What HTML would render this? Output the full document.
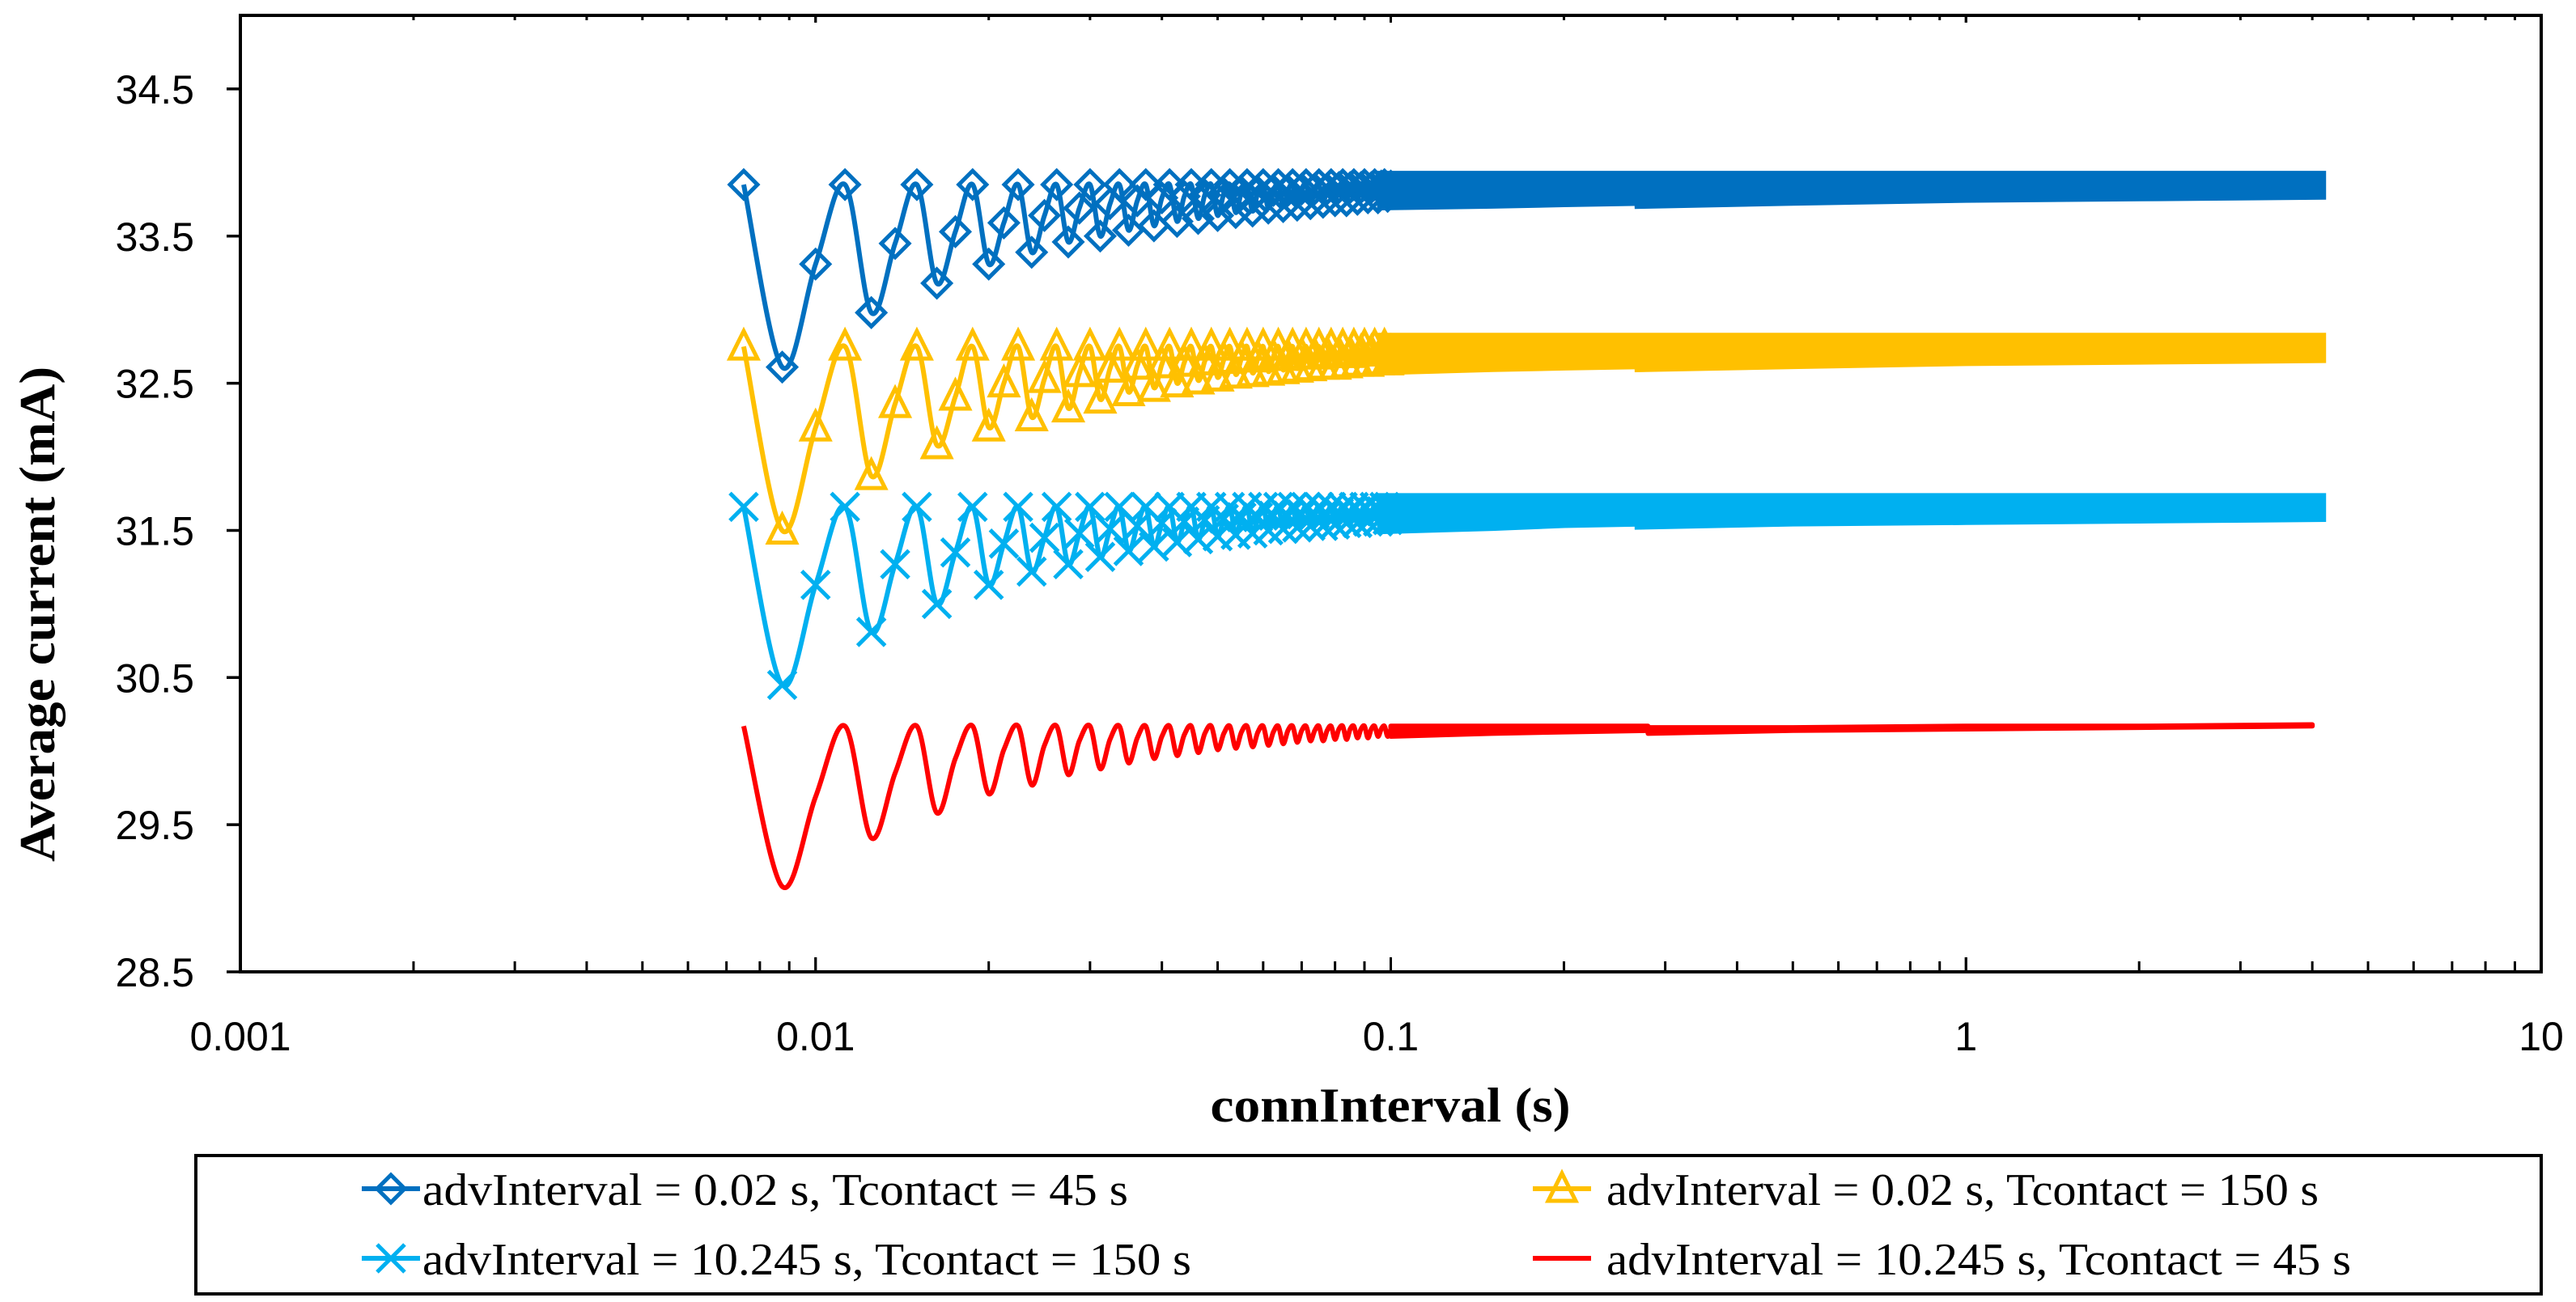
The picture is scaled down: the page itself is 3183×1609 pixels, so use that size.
<!DOCTYPE html>
<html>
<head>
<meta charset="utf-8">
<style>
html,body{margin:0;padding:0;background:#fff;}
svg{display:block;}
</style>
</head>
<body>
<svg id="chart" xmlns="http://www.w3.org/2000/svg" width="3183" height="1609" viewBox="0 0 3183 1609">
  <rect x="0" y="0" width="3183" height="1609" fill="#fff"/>
  <g id="plot"></g>
  <g id="axes"></g>
  <text transform="translate(67,759) rotate(-90)" text-anchor="middle" font-family="Liberation Serif, serif" font-weight="bold" font-size="62" textLength="612" lengthAdjust="spacingAndGlyphs">Average current (mA)</text>
  <text x="1718" y="1386" text-anchor="middle" font-family="Liberation Serif, serif" font-weight="bold" font-size="60" textLength="445" lengthAdjust="spacingAndGlyphs">connInterval (s)</text>
  <g id="legend">
    <rect x="242" y="1428" width="2898" height="171" fill="none" stroke="#000" stroke-width="4"/>
  </g>
</svg>
<script>
// ---- data ----
const connInterval = [0.0075,0.00875,0.01,0.01125,0.0125,0.01375,0.015,0.01625,0.0175,0.01875,0.02,0.02125,0.0225,0.02375,0.025,0.02625,0.0275,0.02875,0.03,0.03125,0.0325,0.03375,0.035,0.03625,0.0375,0.03875,0.04,0.04125,0.0425,0.04375,0.045,0.04625,0.0475,0.04875,0.05,0.05125,
 0.0525,0.05375,0.055,0.05625,0.0575,0.05875,0.06,0.06125,0.0625,0.06375,0.065,0.06625,0.0675,0.06875,0.07,0.07125,0.0725,0.07375,0.075,0.07625,0.0775,0.07875,0.08,0.08125,0.0825,0.08375,0.085,0.08625,0.0875,0.08875,0.09,0.09125,0.0925,0.09375,0.095,0.09625,0.0975,0.09875,0.1];
const blueVals = [33.85,32.61,33.31,33.85,32.98,33.45,33.85,33.18,33.53,33.85,33.31,33.59,33.85,33.39,33.64,33.85,33.46,33.69,33.85,33.50,33.72,33.85,33.54,33.74,33.85,33.57,33.76,33.85,33.60,33.77,33.85,33.62,33.78,33.85,33.64,33.79,
 33.85,33.66,33.80,33.85,33.67,33.80,33.85,33.69,33.81,33.85,33.70,33.81,33.85,33.71,33.82,33.85,33.72,33.82,33.85,33.73,33.82,33.85,33.74,33.83,33.85,33.74,33.83,33.85,33.75,33.83,33.85,33.76,33.83,33.85,33.76,33.84,33.85,33.77,33.84];
const yellowVals = [32.75,31.50,32.20,32.75,31.87,32.36,32.75,32.08,32.41,32.75,32.20,32.50,32.75,32.27,32.53,32.75,32.33,32.57,32.75,32.39,32.60,32.75,32.44,32.62,32.75,32.47,32.63,32.75,32.50,32.64,32.75,32.52,32.65,32.75,32.54,32.66,
 32.75,32.56,32.67,32.75,32.57,32.67,32.75,32.58,32.68,32.75,32.59,32.68,32.75,32.60,32.69,32.75,32.61,32.69,32.75,32.62,32.70,32.75,32.62,32.70,32.75,32.63,32.70,32.75,32.64,32.71,32.75,32.64,32.71,32.75,32.65,32.71,32.75,32.65,32.71];
const cyanVals = [31.66,30.45,31.13,31.66,30.81,31.27,31.66,31.00,31.35,31.66,31.13,31.41,31.66,31.22,31.45,31.66,31.27,31.48,31.66,31.32,31.51,31.66,31.36,31.53,31.66,31.39,31.55,31.66,31.42,31.56,31.66,31.44,31.57,31.66,31.46,31.58,
 31.66,31.47,31.59,31.66,31.48,31.59,31.66,31.50,31.60,31.66,31.51,31.60,31.66,31.52,31.61,31.66,31.53,31.61,31.66,31.53,31.61,31.66,31.54,31.62,31.66,31.55,31.62,31.66,31.55,31.62,31.66,31.56,31.62,31.66,31.56,31.63,31.66,31.57,31.63];
const redVals = [30.17,29.08,29.69,30.17,29.41,29.85,30.17,29.58,29.95,30.17,29.71,30.01,30.17,29.77,30.04,30.17,29.84,30.07,30.17,29.88,30.08,30.17,29.92,30.09,30.17,29.95,30.10,30.17,29.97,30.11,30.17,29.99,30.12,30.17,30.01,30.12,
 30.17,30.02,30.13,30.17,30.03,30.13,30.17,30.04,30.13,30.17,30.05,30.14,30.17,30.06,30.14,30.17,30.07,30.14,30.17,30.07,30.14,30.17,30.08,30.15,30.17,30.08,30.15,30.17,30.09,30.15,30.17,30.09,30.15,30.17,30.10,30.15,30.17,30.10,30.15];
// dense region envelope (min / max of the many points)
const bandX = [0.1,0.15,0.2,0.28,0.2801,0.5,1,2,4];
const blueHi = [33.85,33.85,33.85,33.85,33.85,33.85,33.85,33.85,33.85];
const blueLo = [33.77,33.78,33.79,33.80,33.78,33.80,33.82,33.83,33.84];
const yellowHi = [32.75,32.75,32.75,32.75,32.75,32.75,32.75,32.75,32.75];
const yellowLo = [32.65,32.67,32.68,32.69,32.67,32.69,32.71,32.72,32.73];
const cyanHi = [31.66,31.66,31.66,31.66,31.66,31.66,31.66,31.66,31.66];
const cyanLo = [31.57,31.59,31.61,31.62,31.60,31.62,31.63,31.64,31.65];
const redHi = [30.17,30.17,30.17,30.17,30.16,30.16,30.17,30.17,30.18];
const redLo = [30.10,30.12,30.13,30.14,30.12,30.14,30.15,30.16,30.17];
const yTicks = [28.5,29.5,30.5,31.5,32.5,33.5,34.5];
const yTickLabels = ["28.5","29.5","30.5","31.5","32.5","33.5","34.5"];
const xTicks = [0.001,0.01,0.1,1,10];
const xTickLabels = ["0.001","0.01","0.1","1","10"];
const legendLabels = ["advInterval = 0.02 s, Tcontact = 45 s","advInterval = 0.02 s, Tcontact = 150 s","advInterval = 10.245 s, Tcontact = 150 s","advInterval = 10.245 s, Tcontact = 45 s"];

// ---- geometry ----
const L=297,R=3140,T=19,B=1201;
const xMinLog=-3,xMaxLog=1,yMin=28.5,yMax=35.0;
function xs(v){return L+(Math.log10(v)-xMinLog)/(xMaxLog-xMinLog)*(R-L);}
function ys(v){return B-(v-yMin)/(yMax-yMin)*(B-T);}
const NS="http://www.w3.org/2000/svg";
function mk(tag,attrs,parent){const e=document.createElementNS(NS,tag);for(const k in attrs)e.setAttribute(k,attrs[k]);parent.appendChild(e);return e;}
const plot=document.getElementById('plot'),axes=document.getElementById('axes'),legend=document.getElementById('legend');

function smoothPath(pts){
  let d="M"+pts[0][0].toFixed(1)+","+pts[0][1].toFixed(1);
  for(let i=0;i<pts.length-1;i++){
    const p0=pts[i-1]||pts[i],p1=pts[i],p2=pts[i+1],p3=pts[i+2]||p2;
    const t=1/6;
    const c1=[p1[0]+(p2[0]-p0[0])*t,p1[1]+(p2[1]-p0[1])*t];
    const c2=[p2[0]-(p3[0]-p1[0])*t,p2[1]-(p3[1]-p1[1])*t];
    d+=" C"+c1[0].toFixed(1)+","+c1[1].toFixed(1)+" "+c2[0].toFixed(1)+","+c2[1].toFixed(1)+" "+p2[0].toFixed(1)+","+p2[1].toFixed(1);
  }
  return d;
}
function marker(type,x,y,color,parent){
  let e;
  if(type==='diamond'){
    e=mk('polygon',{points:`${x},${y-17} ${x+17},${y} ${x},${y+17} ${x-17},${y}`,fill:'none',stroke:color,'stroke-width':5},parent);
  }else if(type==='triangle'){
    e=mk('polygon',{points:`${x},${y-19} ${x+17},${y+15} ${x-17},${y+15}`,fill:'none',stroke:color,'stroke-width':5},parent);
  }else if(type==='x'){
    e=mk('path',{d:`M${x-17},${y-17}L${x+17},${y+17}M${x-17},${y+17}L${x+17},${y-17}`,fill:'none',stroke:color,'stroke-width':5},parent);
  }
  return e;
}
const series=[
 {name:'blue',vals:blueVals,hi:blueHi,lo:blueLo,color:'#0070C0',marker:'diamond',bw:34},
 {name:'yellow',vals:yellowVals,hi:yellowHi,lo:yellowLo,color:'#FFC000',marker:'triangle',bw:34},
 {name:'cyan',vals:cyanVals,hi:cyanHi,lo:cyanLo,color:'#00B0F0',marker:'x',bw:34},
 {name:'red',vals:redVals,hi:redHi,lo:redLo,color:'#FF0000',marker:null,bw:6}
];
series.forEach(s=>{
  const g=mk('g',{},plot);
  
  
  const top=bandX.map((x,i)=>[xs(x),ys(s.hi[i])]);
  const bot=bandX.map((x,i)=>[xs(x),ys(s.lo[i])]).reverse();
  const poly=mk('polygon',{points:top.concat(bot).map(p=>p[0].toFixed(1)+","+p[1].toFixed(1)).join(" "),fill:s.color,stroke:s.color,'stroke-width':s.bw,'stroke-linejoin':s.marker?'miter':'round'},g);
  
  
  const pts=connInterval.map((x,i)=>[xs(x),ys(s.vals[i])]);
  const line=mk('path',{d:smoothPath(pts),fill:'none',stroke:s.color,'stroke-width':6,'stroke-linejoin':'round'},g);
  
  
  if(s.marker){
    connInterval.forEach((x,i)=>{
      const m=marker(s.marker,xs(x),ys(s.vals[i]),s.color,g);
      
      
    });
  }
});

// frame
const frame=mk('rect',{x:L,y:T,width:R-L,height:B-T,fill:'none',stroke:'#000','stroke-width':4},axes);


yTicks.forEach((v,i)=>{
  const y=ys(v);
  const t=mk('line',{x1:L-17,x2:L,y1:y,y2:y,stroke:'#000','stroke-width':3.5},axes);
  
  
  const lb=mk('text',{x:240,y:y+18,'text-anchor':'end','font-family':'Liberation Sans, sans-serif','font-size':50},axes);
  lb.textContent=yTickLabels[i];
  
  
});
for(let d=-3;d<1;d++){
  for(let m=1;m<=10;m++){
    const v=m*Math.pow(10,d);
    const x=xs(v);
    const major=(m===1||m===10);
    const b=mk('line',{x1:x,x2:x,y1:B,y2:B-(major?18:13),stroke:'#000','stroke-width':3},axes);
    
    
    const t=mk('line',{x1:x,x2:x,y1:T,y2:T+(major?9:6),stroke:'#000','stroke-width':3},axes);
    
    
  }
}
xTicks.forEach((v,i)=>{
  const lb=mk('text',{x:xs(v),y:1298,'text-anchor':'middle','font-family':'Liberation Sans, sans-serif','font-size':50},axes);
  lb.textContent=xTickLabels[i];
  
  
});

// legend
const legPos=[[483,522,1489,872],[1930,1985,1489,880],[483,522,1575,950],[1930,1985,1575,920]];
[0,1,2,3].forEach((si,i)=>{
  const s=series[si];
  const [mx,tx,by,tl]=legPos[i];
  const cy=by-20;
  const g=mk('g',{},legend);
  
  
  mk('line',{x1:mx-36,x2:mx+36,y1:cy,y2:cy,stroke:s.color,'stroke-width':6},g);
  if(s.marker) marker(s.marker,mx,cy,s.color,g);
  const t=mk('text',{x:tx,y:by,'font-family':'Liberation Serif, serif','font-size':56,textLength:tl,lengthAdjust:'spacingAndGlyphs'},g);
  t.textContent=legendLabels[si];
});
</script>
</body>
</html>
